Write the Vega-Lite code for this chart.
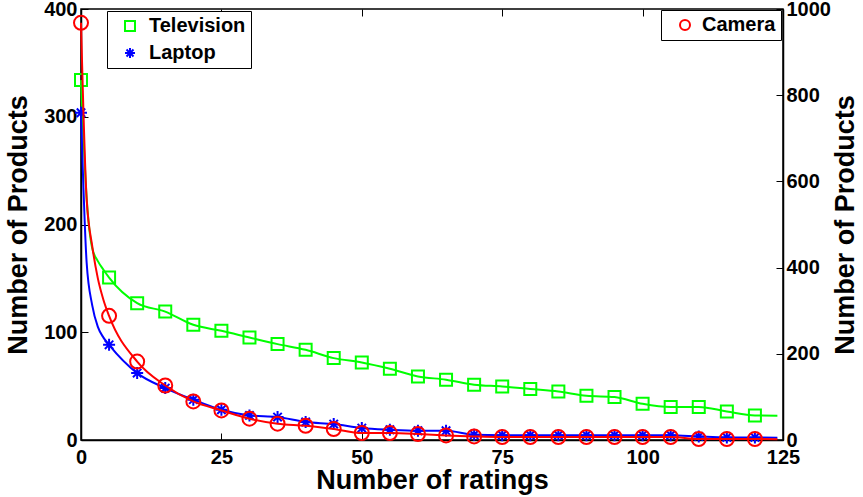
{
  "$schema": "https://vega.github.io/schema/vega-lite/v6.json",
  "autosize": "none",
  "width": 702,
  "height": 431,
  "padding": {"left": 81, "top": 9, "right": 80, "bottom": 57},
  "background": "white",
  "datasets": {
    "left": [
      {"series": "Television", "x": 0, "y": 334},
      {"series": "Television", "x": 1, "y": 225},
      {"series": "Television", "x": 2, "y": 178},
      {"series": "Television", "x": 3, "y": 166},
      {"series": "Television", "x": 4, "y": 158},
      {"series": "Television", "x": 5, "y": 150.7},
      {"series": "Television", "x": 10, "y": 127},
      {"series": "Television", "x": 15, "y": 119.2},
      {"series": "Television", "x": 20, "y": 106.9},
      {"series": "Television", "x": 25, "y": 101.3},
      {"series": "Television", "x": 30, "y": 95.1},
      {"series": "Television", "x": 35, "y": 89},
      {"series": "Television", "x": 40, "y": 83.7},
      {"series": "Television", "x": 45, "y": 76},
      {"series": "Television", "x": 50, "y": 72},
      {"series": "Television", "x": 55, "y": 66.1},
      {"series": "Television", "x": 60, "y": 59},
      {"series": "Television", "x": 65, "y": 56},
      {"series": "Television", "x": 70, "y": 51.3},
      {"series": "Television", "x": 75, "y": 49.7},
      {"series": "Television", "x": 80, "y": 47.3},
      {"series": "Television", "x": 85, "y": 45},
      {"series": "Television", "x": 90, "y": 41},
      {"series": "Television", "x": 95, "y": 39.9},
      {"series": "Television", "x": 100, "y": 33.6},
      {"series": "Television", "x": 105, "y": 30.6},
      {"series": "Television", "x": 110, "y": 30.6},
      {"series": "Television", "x": 115, "y": 26.5},
      {"series": "Television", "x": 120, "y": 22.8},
      {"series": "Television", "x": 124, "y": 22.5},
      {"series": "Laptop", "x": 0, "y": 303.7},
      {"series": "Laptop", "x": 1, "y": 165},
      {"series": "Laptop", "x": 2, "y": 125},
      {"series": "Laptop", "x": 3, "y": 105},
      {"series": "Laptop", "x": 4, "y": 95},
      {"series": "Laptop", "x": 5, "y": 88.3},
      {"series": "Laptop", "x": 10, "y": 62.1},
      {"series": "Laptop", "x": 15, "y": 48.2},
      {"series": "Laptop", "x": 20, "y": 37.4},
      {"series": "Laptop", "x": 25, "y": 28.1},
      {"series": "Laptop", "x": 30, "y": 22.8},
      {"series": "Laptop", "x": 35, "y": 21.3},
      {"series": "Laptop", "x": 40, "y": 16.7},
      {"series": "Laptop", "x": 45, "y": 14.8},
      {"series": "Laptop", "x": 50, "y": 11.1},
      {"series": "Laptop", "x": 55, "y": 9.5},
      {"series": "Laptop", "x": 60, "y": 8.6},
      {"series": "Laptop", "x": 65, "y": 8.6},
      {"series": "Laptop", "x": 70, "y": 4.9},
      {"series": "Laptop", "x": 75, "y": 4.5},
      {"series": "Laptop", "x": 80, "y": 4.5},
      {"series": "Laptop", "x": 85, "y": 4.5},
      {"series": "Laptop", "x": 90, "y": 4.5},
      {"series": "Laptop", "x": 95, "y": 4.5},
      {"series": "Laptop", "x": 100, "y": 4.5},
      {"series": "Laptop", "x": 105, "y": 4.5},
      {"series": "Laptop", "x": 110, "y": 3.3},
      {"series": "Laptop", "x": 115, "y": 2.4},
      {"series": "Laptop", "x": 120, "y": 2.4},
      {"series": "Laptop", "x": 124, "y": 2.2}
    ],
    "right": [
      {"series": "Camera", "x": 0, "y": 968},
      {"series": "Camera", "x": 1, "y": 560},
      {"series": "Camera", "x": 2, "y": 450},
      {"series": "Camera", "x": 3, "y": 375},
      {"series": "Camera", "x": 4, "y": 325},
      {"series": "Camera", "x": 5, "y": 288},
      {"series": "Camera", "x": 10, "y": 182},
      {"series": "Camera", "x": 15, "y": 126.5},
      {"series": "Camera", "x": 20, "y": 89.5},
      {"series": "Camera", "x": 25, "y": 68.6},
      {"series": "Camera", "x": 30, "y": 49.4},
      {"series": "Camera", "x": 35, "y": 37.8},
      {"series": "Camera", "x": 40, "y": 33.1},
      {"series": "Camera", "x": 45, "y": 25.5},
      {"series": "Camera", "x": 50, "y": 16.2},
      {"series": "Camera", "x": 55, "y": 16},
      {"series": "Camera", "x": 60, "y": 13.9},
      {"series": "Camera", "x": 65, "y": 10.7},
      {"series": "Camera", "x": 70, "y": 8.3},
      {"series": "Camera", "x": 75, "y": 7},
      {"series": "Camera", "x": 80, "y": 7},
      {"series": "Camera", "x": 85, "y": 7},
      {"series": "Camera", "x": 90, "y": 7},
      {"series": "Camera", "x": 95, "y": 7},
      {"series": "Camera", "x": 100, "y": 7},
      {"series": "Camera", "x": 105, "y": 7},
      {"series": "Camera", "x": 110, "y": 2.3},
      {"series": "Camera", "x": 115, "y": 2.3},
      {"series": "Camera", "x": 120, "y": 2.3},
      {"series": "Camera", "x": 124, "y": 2}
    ]
  },
  "config": {
    "view": {"stroke": "black", "strokeWidth": 1.5},
    "font": "Liberation Sans",
    "axis": {
      "grid": false,
      "labelFont": "Liberation Sans",
      "labelFontWeight": "bold",
      "labelFontSize": 20,
      "labelColor": "black",
      "titleFont": "Liberation Sans",
      "titleFontWeight": "bold",
      "titleFontSize": 27,
      "titleColor": "black",
      "tickColor": "black",
      "tickSize": -7,
      "tickWidth": 1,
      "domainColor": "black",
      "domainWidth": 1.5
    },
    "legend": {
      "labelFont": "Liberation Sans",
      "labelFontWeight": "bold",
      "labelFontSize": 20,
      "labelColor": "black"
    }
  },
  "layer": [
    {
      "data": {"name": "left"},
      "encoding": {
        "x": {"field": "x", "type": "quantitative", "scale": {"domain": [0, 125], "nice": false},
              "axis": {"values": [0, 25, 50, 75, 100, 125], "title": "Number of ratings", "titlePadding": 0, "labelPadding": 14, "labelFlush": false}},
        "y": {"field": "y", "type": "quantitative", "scale": {"domain": [0, 400], "nice": false},
              "axis": {"orient": "left", "values": [0, 100, 200, 300, 400], "title": "Number of Products", "titlePadding": 11, "labelPadding": 11}}
      },
      "layer": [
        {
          "transform": [{"filter": "datum.series == 'Television'"}],
          "mark": {"type": "line", "color": "#00ff00", "strokeWidth": 2, "interpolate": "monotone"}
        },
        {
          "transform": [{"filter": "datum.series == 'Laptop'"}],
          "mark": {"type": "line", "color": "#0000ff", "strokeWidth": 2, "interpolate": "monotone"}
        },
        {
          "transform": [{"filter": "datum.x % 5 == 0"}],
          "mark": {"type": "point", "filled": false, "strokeWidth": 2, "size": 144, "opacity": 1},
          "encoding": {
            "color": {"field": "series", "type": "nominal",
              "scale": {"domain": ["Television", "Laptop"], "range": ["#00ff00", "#0000ff"]},
              "legend": {"title": null, "orient": "none", "legendX": 26, "legendY": 2, "padding": 5,
                "strokeColor": "black", "fillColor": "white", "symbolOffset": 8, "labelOffset": 9,
                "rowPadding": 7, "symbolSize": 100, "symbolStrokeWidth": 2}},
            "shape": {"field": "series", "type": "nominal",
              "scale": {"domain": ["Television", "Laptop"], "range": ["square", "M-1,0L1,0M0,-1L0,1M-0.7,-0.7L0.7,0.7M-0.7,0.7L0.7,-0.7"]},
              "legend": {"title": null, "orient": "none", "legendX": 26, "legendY": 2, "padding": 5,
                "strokeColor": "black", "fillColor": "white", "symbolOffset": 8, "labelOffset": 9,
                "rowPadding": 7, "symbolSize": 100, "symbolStrokeWidth": 2}}
          }
        }
      ]
    },
    {
      "data": {"name": "right"},
      "encoding": {
        "x": {"field": "x", "type": "quantitative", "scale": {"domain": [0, 125], "nice": false},
              "axis": {"orient": "top", "values": [0, 25, 50, 75, 100, 125], "labels": false, "title": null, "domain": false}},
        "y": {"field": "y", "type": "quantitative", "scale": {"domain": [0, 1000], "nice": false},
              "axis": {"orient": "right", "values": [0, 200, 400, 600, 800, 1000], "format": "d", "title": "Number of Products", "titleAngle": 270, "titlePadding": 29, "labelPadding": 10}}
      },
      "layer": [
        {
          "mark": {"type": "line", "color": "#ff0000", "strokeWidth": 2, "interpolate": "monotone"}
        },
        {
          "transform": [{"filter": "datum.x % 5 == 0"}],
          "mark": {"type": "point", "shape": "circle", "filled": false, "strokeWidth": 2, "size": 196, "opacity": 1},
          "encoding": {
            "color": {"field": "series", "type": "nominal",
              "scale": {"domain": ["Camera"], "range": ["#ff0000"]},
              "legend": {"title": null, "orient": "none", "legendX": 580, "legendY": 1, "padding": 5,
                "strokeColor": "black", "fillColor": "white", "symbolOffset": 9, "labelOffset": 7,
                "symbolSize": 100, "symbolStrokeWidth": 2, "symbolType": "circle"}}
          }
        }
      ]
    }
  ],
  "resolve": {"scale": {"y": "independent", "color": "independent", "shape": "independent"}, "axis": {"x": "independent"}}
}
